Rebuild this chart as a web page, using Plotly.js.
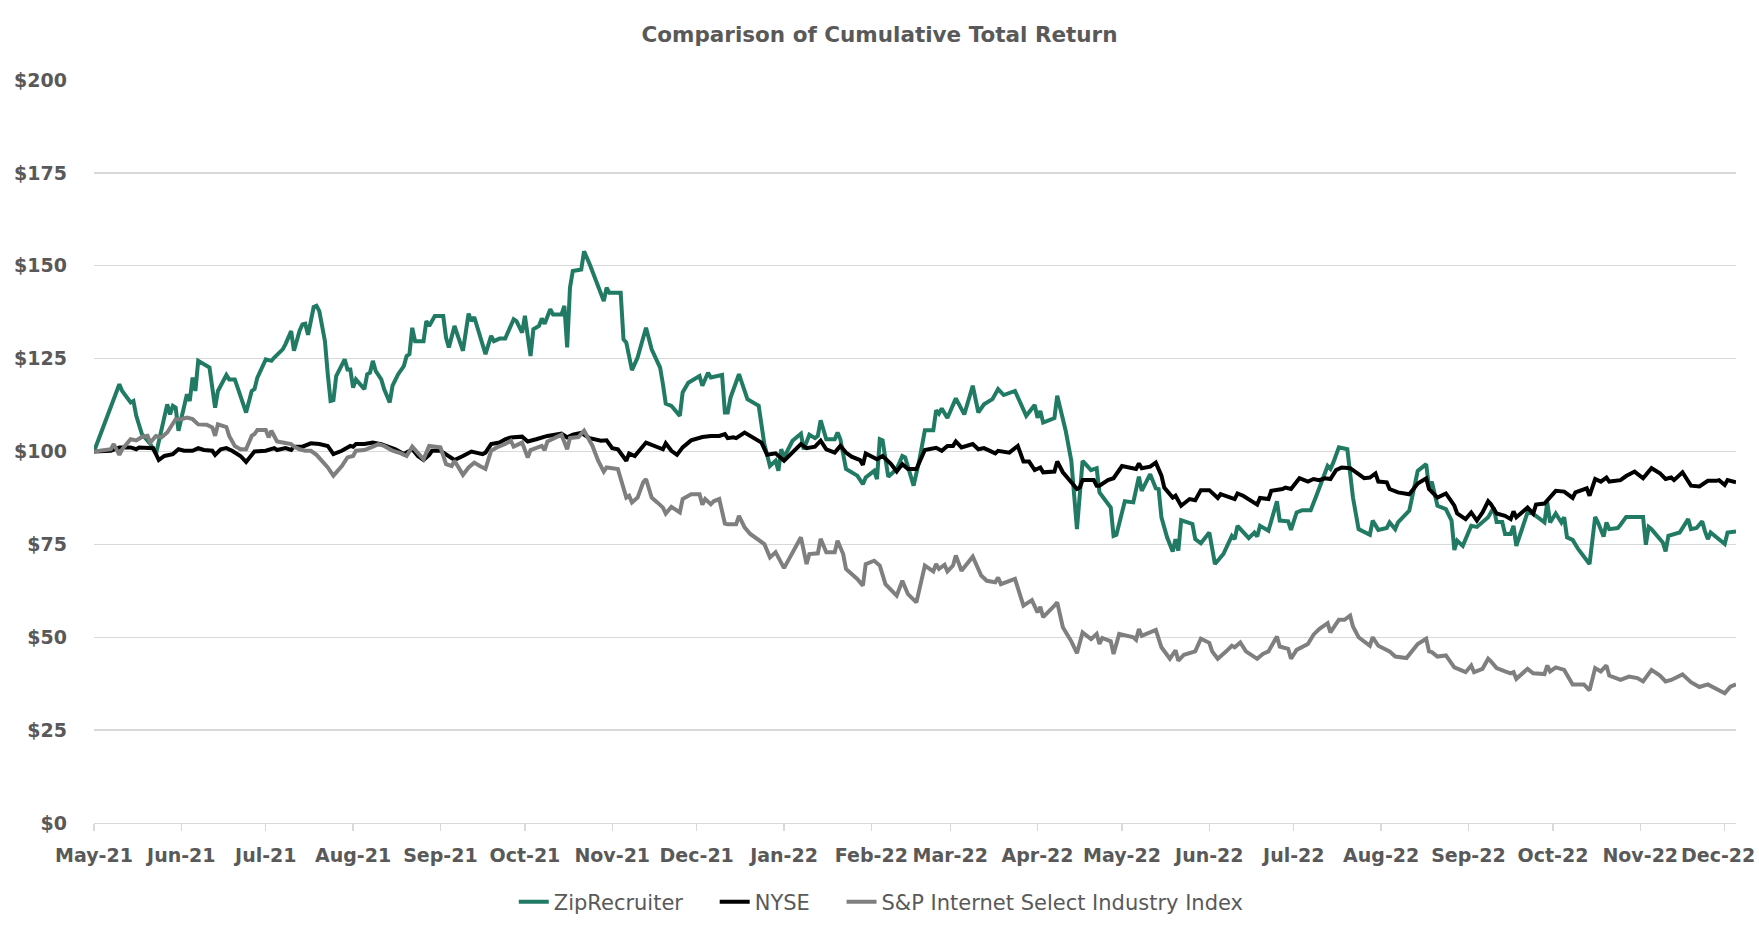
<!DOCTYPE html>
<html>
<head>
<meta charset="utf-8">
<script src="https://cdn.plot.ly/plotly-3.0.1.min.js"></script>
<style>html,body{margin:0;padding:0;background:#fff;}#chart{width:1759px;height:938px;}</style>
</head>
<body>
<div id="chart"></div>
<script>
// ---------- DATA ----------
const seriesNames = ["ZipRecruiter", "NYSE", "S&P Internet Select Industry Index"];

const tickDates = ["2021-05-26","2021-06-26","2021-07-26","2021-08-26","2021-09-26","2021-10-26","2021-11-26","2021-12-26","2022-01-26","2022-02-26","2022-03-26","2022-04-26","2022-05-26","2022-06-26","2022-07-26","2022-08-26","2022-09-26","2022-10-26","2022-11-26","2022-12-26"];
const tickLabels = ["May-21","Jun-21","Jul-21","Aug-21","Sep-21","Oct-21","Nov-21","Dec-21","Jan-22","Feb-22","Mar-22","Apr-22","May-22","Jun-22","Jul-22","Aug-22","Sep-22","Oct-22","Nov-22","Dec-22"];
const yTicks = [0, 25, 50, 75, 100, 125, 150, 175, 200];
const yTickLabels = ["$0", "$25", "$50", "$75", "$100", "$125", "$150", "$175", "$200"];

const zrDates = ["2021-05-26","2021-06-04","2021-06-05","2021-06-08","2021-06-09","2021-06-10","2021-06-12","2021-06-15","2021-06-17","2021-06-21","2021-06-22","2021-06-23","2021-06-24","2021-06-25","2021-06-28","2021-06-29","2021-06-30","2021-07-01","2021-07-02","2021-07-06","2021-07-08","2021-07-09","2021-07-12","2021-07-13","2021-07-15","2021-07-16","2021-07-19","2021-07-21","2021-07-22","2021-07-23","2021-07-26","2021-07-28","2021-07-29","2021-08-01","2021-08-02","2021-08-04","2021-08-05","2021-08-07","2021-08-08","2021-08-09","2021-08-10","2021-08-12","2021-08-13","2021-08-14","2021-08-16","2021-08-17","2021-08-18","2021-08-19","2021-08-20","2021-08-23","2021-08-24","2021-08-25","2021-08-26","2021-08-27","2021-08-30","2021-08-31","2021-09-01","2021-09-02","2021-09-03","2021-09-05","2021-09-06","2021-09-08","2021-09-09","2021-09-11","2021-09-13","2021-09-14","2021-09-15","2021-09-16","2021-09-17","2021-09-20","2021-09-21","2021-09-22","2021-09-23","2021-09-24","2021-09-27","2021-09-28","2021-09-29","2021-10-01","2021-10-02","2021-10-04","2021-10-06","2021-10-07","2021-10-08","2021-10-10","2021-10-12","2021-10-14","2021-10-15","2021-10-17","2021-10-19","2021-10-22","2021-10-23","2021-10-25","2021-10-26","2021-10-28","2021-10-29","2021-10-31","2021-11-01","2021-11-02","2021-11-04","2021-11-05","2021-11-08","2021-11-09","2021-11-10","2021-11-11","2021-11-12","2021-11-15","2021-11-16","2021-11-18","2021-11-23","2021-11-24","2021-11-25","2021-11-29","2021-11-30","2021-12-01","2021-12-03","2021-12-05","2021-12-08","2021-12-10","2021-12-13","2021-12-14","2021-12-15","2021-12-17","2021-12-20","2021-12-21","2021-12-23","2021-12-27","2021-12-28","2021-12-30","2021-12-31","2022-01-04","2022-01-05","2022-01-06","2022-01-07","2022-01-10","2022-01-13","2022-01-17","2022-01-19","2022-01-21","2022-01-23","2022-01-24","2022-01-25","2022-01-26","2022-01-29","2022-02-01","2022-02-02","2022-02-04","2022-02-06","2022-02-07","2022-02-08","2022-02-10","2022-02-13","2022-02-14","2022-02-15","2022-02-17","2022-02-21","2022-02-23","2022-02-24","2022-02-27","2022-02-28","2022-03-01","2022-03-02","2022-03-04","2022-03-07","2022-03-09","2022-03-10","2022-03-13","2022-03-15","2022-03-17","2022-03-20","2022-03-21","2022-03-22","2022-03-23","2022-03-25","2022-03-28","2022-03-31","2022-04-03","2022-04-05","2022-04-07","2022-04-10","2022-04-12","2022-04-14","2022-04-18","2022-04-22","2022-04-25","2022-04-26","2022-04-27","2022-04-28","2022-05-02","2022-05-03","2022-05-06","2022-05-08","2022-05-10","2022-05-12","2022-05-15","2022-05-17","2022-05-18","2022-05-22","2022-05-23","2022-05-24","2022-05-27","2022-05-30","2022-06-01","2022-06-02","2022-06-05","2022-06-07","2022-06-08","2022-06-09","2022-06-11","2022-06-13","2022-06-14","2022-06-15","2022-06-16","2022-06-20","2022-06-21","2022-06-23","2022-06-26","2022-06-28","2022-07-01","2022-07-04","2022-07-05","2022-07-06","2022-07-10","2022-07-12","2022-07-13","2022-07-14","2022-07-17","2022-07-20","2022-07-21","2022-07-24","2022-07-25","2022-07-27","2022-07-29","2022-08-01","2022-08-03","2022-08-04","2022-08-07","2022-08-08","2022-08-09","2022-08-11","2022-08-14","2022-08-16","2022-08-18","2022-08-22","2022-08-23","2022-08-25","2022-08-28","2022-08-29","2022-08-31","2022-09-01","2022-09-05","2022-09-08","2022-09-11","2022-09-12","2022-09-13","2022-09-15","2022-09-18","2022-09-20","2022-09-21","2022-09-22","2022-09-24","2022-09-27","2022-09-29","2022-10-03","2022-10-05","2022-10-06","2022-10-08","2022-10-09","2022-10-11","2022-10-12","2022-10-13","2022-10-17","2022-10-19","2022-10-23","2022-10-24","2022-10-25","2022-10-27","2022-10-29","2022-10-30","2022-10-31","2022-11-02","2022-11-04","2022-11-06","2022-11-08","2022-11-10","2022-11-11","2022-11-13","2022-11-14","2022-11-15","2022-11-18","2022-11-19","2022-11-21","2022-11-27","2022-11-28","2022-11-29","2022-11-30","2022-12-04","2022-12-05","2022-12-06","2022-12-10","2022-12-13","2022-12-14","2022-12-16","2022-12-18","2022-12-19","2022-12-20","2022-12-21","2022-12-26","2022-12-27","2022-12-30"];
const zrValues = [100,118.1,116.3,113.2,113.6,109.6,104.7,102,99.3,112.7,110,112.3,111.8,105.6,115.4,113.6,119.9,116.3,124.4,122.6,111.8,116.3,120.6,119.4,119.4,117.2,110.5,116.3,116.8,119.9,124.8,124.4,125.3,127.5,128.9,132.4,127.1,132.5,134.2,134.4,131.4,138.9,139.2,137.8,129.7,120.8,113.6,113.8,120.3,124.8,122.1,122.1,117.2,119.4,116.8,120.8,121.2,124.4,121.7,119.4,116.8,113.2,117.7,120.8,123,125.7,126.2,133.3,129.7,129.7,135.1,133.8,135.1,136.5,136.5,130.6,128,133.8,131.5,127.1,137.1,135.1,136.2,131.5,126.2,131.1,129.7,130.4,130.4,135.6,135.1,132,136.5,125.7,132.9,133.8,135.8,134.4,138.3,136.9,136.9,139.2,128,144.1,148.6,149,153.9,150.4,140.5,144.1,142.7,142.7,130.2,129.3,121.9,125.3,133.3,127.5,122.6,118.1,112.9,112.3,109.6,115.9,118.5,120.3,117.7,121.2,119.9,120.6,110.5,110.5,114.5,120.8,114.1,112.3,102,96.1,97.5,94.8,100.6,98.4,102.9,104.8,100.6,104.5,103.6,104.2,108.4,103.3,103.3,105.1,103.3,95.3,93.5,91.2,93,94.8,92.6,103.3,103,93.2,95.3,98.8,98.4,90.8,97.5,105.7,105.7,111.1,110.2,111.6,109,114.3,110,117.7,110.5,112.7,114.1,116.8,115.2,116.3,109.6,112.5,109.1,110.9,107.8,109,115,105.6,97.5,79.1,97.5,95,95.5,89,84.9,77.3,77.6,86.6,86.3,93.2,89.4,93.9,90.1,89.9,82.3,76.9,73.1,76.4,73.3,81.5,80.5,76.4,75.3,78.2,69.7,72.4,77.3,76.4,80,76.7,78.2,77.1,80,78.7,86.6,81.4,81.2,78.9,83.6,84.2,84.2,88.1,90.3,96.1,95.3,97,101.1,100.6,87.6,79.1,77.6,81.4,78.9,79.4,80.9,79.1,80.9,84.1,94.8,96.6,90.3,91.9,85.4,84.5,81.4,73.5,76,74.6,80,79.7,82.3,84.9,81,81,77.8,77.8,80,74.6,83.6,83.2,80.9,86.3,80.9,83.3,80.9,82.3,76.9,76.2,73.7,71.9,69.7,82.4,80.9,77.1,80.9,79.1,79.4,80.3,82.4,82.4,74.9,79.7,79.1,75.5,73.1,77.3,78.2,81.8,79.1,79.4,81.2,78.5,76.4,78.2,75.1,78.2,78.5];

const nyseDates = ["2021-05-26","2021-06-01","2021-06-04","2021-06-08","2021-06-10","2021-06-11","2021-06-16","2021-06-18","2021-06-20","2021-06-23","2021-06-25","2021-06-27","2021-06-30","2021-07-02","2021-07-04","2021-07-07","2021-07-08","2021-07-10","2021-07-12","2021-07-14","2021-07-17","2021-07-19","2021-07-22","2021-07-26","2021-07-29","2021-07-30","2021-08-02","2021-08-04","2021-08-05","2021-08-08","2021-08-11","2021-08-14","2021-08-17","2021-08-19","2021-08-22","2021-08-25","2021-08-26","2021-08-27","2021-08-30","2021-09-02","2021-09-05","2021-09-08","2021-09-10","2021-09-13","2021-09-16","2021-09-18","2021-09-20","2021-09-22","2021-09-23","2021-09-26","2021-09-29","2021-10-01","2021-10-04","2021-10-07","2021-10-11","2021-10-12","2021-10-14","2021-10-17","2021-10-19","2021-10-21","2021-10-25","2021-10-27","2021-10-30","2021-11-03","2021-11-08","2021-11-10","2021-11-12","2021-11-15","2021-11-18","2021-11-22","2021-11-24","2021-11-26","2021-11-28","2021-12-01","2021-12-02","2021-12-04","2021-12-08","2021-12-10","2021-12-14","2021-12-15","2021-12-17","2021-12-19","2021-12-21","2021-12-24","2021-12-28","2021-12-31","2022-01-03","2022-01-05","2022-01-06","2022-01-08","2022-01-09","2022-01-12","2022-01-15","2022-01-18","2022-01-20","2022-01-23","2022-01-26","2022-01-29","2022-02-01","2022-02-03","2022-02-06","2022-02-08","2022-02-10","2022-02-13","2022-02-15","2022-02-17","2022-02-19","2022-02-22","2022-02-23","2022-02-24","2022-02-26","2022-02-28","2022-03-02","2022-03-05","2022-03-07","2022-03-09","2022-03-11","2022-03-14","2022-03-17","2022-03-21","2022-03-23","2022-03-25","2022-03-27","2022-03-28","2022-03-30","2022-04-03","2022-04-05","2022-04-07","2022-04-11","2022-04-12","2022-04-16","2022-04-19","2022-04-21","2022-04-23","2022-04-25","2022-04-27","2022-04-28","2022-05-02","2022-05-03","2022-05-05","2022-05-08","2022-05-10","2022-05-11","2022-05-12","2022-05-16","2022-05-17","2022-05-18","2022-05-21","2022-05-23","2022-05-26","2022-05-31","2022-06-01","2022-06-02","2022-06-05","2022-06-07","2022-06-09","2022-06-10","2022-06-13","2022-06-14","2022-06-16","2022-06-19","2022-06-21","2022-06-23","2022-06-26","2022-06-29","2022-06-30","2022-07-05","2022-07-06","2022-07-08","2022-07-11","2022-07-13","2022-07-14","2022-07-17","2022-07-18","2022-07-20","2022-07-22","2022-07-23","2022-07-25","2022-07-28","2022-07-31","2022-08-02","2022-08-04","2022-08-06","2022-08-08","2022-08-10","2022-08-12","2022-08-15","2022-08-17","2022-08-20","2022-08-22","2022-08-24","2022-08-25","2022-08-28","2022-08-29","2022-09-01","2022-09-05","2022-09-08","2022-09-11","2022-09-12","2022-09-15","2022-09-18","2022-09-21","2022-09-22","2022-09-25","2022-09-27","2022-09-29","2022-10-01","2022-10-03","2022-10-04","2022-10-06","2022-10-09","2022-10-11","2022-10-12","2022-10-13","2022-10-17","2022-10-19","2022-10-20","2022-10-23","2022-10-25","2022-10-27","2022-10-30","2022-11-02","2022-11-03","2022-11-07","2022-11-08","2022-11-10","2022-11-12","2022-11-14","2022-11-15","2022-11-19","2022-11-21","2022-11-24","2022-11-27","2022-11-30","2022-12-03","2022-12-05","2022-12-07","2022-12-08","2022-12-11","2022-12-14","2022-12-17","2022-12-20","2022-12-23","2022-12-24","2022-12-26","2022-12-27","2022-12-30"];
const nyseValues = [100,100.2,101.1,101.1,100.6,101.1,100.9,97.7,98.8,99.3,100.6,100.2,100.2,100.9,100.4,100.2,99.1,100.6,100.9,100.2,98.8,97.2,100,100.2,100.9,100.4,100.9,100.4,101.3,101.3,102.2,102,101.5,99.3,100.2,101.5,101.3,102,102,102.4,102,101.1,100.6,99.3,100.6,98.8,97.7,99.1,100.2,100.2,98.6,97.7,98.8,100,99.3,99.7,102,102.4,103.3,103.8,104,102.7,103.3,104.2,104.8,103.8,104.5,105,103.6,102.9,103,100.9,100.6,97.5,99.5,98.8,102.4,101.8,100.6,102.2,100.2,99.1,101.1,103,103.9,104.2,104.2,104.7,103.6,103.8,103.6,105.1,103.9,102.4,99.1,99.5,97.5,99.7,102,100.9,101.3,102.9,100.6,99.7,101.5,99.7,98.6,97.7,96.4,99.5,98.8,97.9,98.8,96.6,94.6,96.6,95.3,95.3,100.4,101,100.2,101.5,101.5,102.7,101.1,102,100.6,100.9,99.5,100.2,99.7,101.5,97.3,97.3,95,95.7,94.4,94.6,97.3,94.4,91.7,89.9,90.3,92.3,92.3,90.8,90.8,92.3,92.8,96.1,95.3,96.8,95.5,95.9,97,93.5,90.3,87.6,88.1,85.4,87.2,86.9,89.6,89.6,87.5,88.5,87.2,88.7,88.1,86.7,85.7,87.5,87.2,89.4,89.6,89.9,90.3,89.9,92.8,91.9,92.6,92.3,92.8,92.6,95,95.7,95.5,94.4,92.8,93,94.1,91.9,91.7,89.9,89,88.5,91.4,92.8,89.9,87.6,88.7,85.4,83.3,81.8,83.6,81.4,83.6,86.6,85.8,83.3,82.7,81.8,83.9,82.3,84.9,83.3,85.7,86,87.8,89.4,89.2,87.5,89,90.1,88.1,92.6,91.9,93,91.9,92.3,93.4,94.6,92.8,95.5,94.1,92.6,93,92.3,94.4,90.8,90.6,92.1,92.1,92.3,91,92.3,91.7];

const spDates = ["2021-05-26","2021-06-01","2021-06-02","2021-06-04","2021-06-05","2021-06-08","2021-06-10","2021-06-12","2021-06-14","2021-06-15","2021-06-17","2021-06-19","2021-06-21","2021-06-24","2021-06-26","2021-06-28","2021-06-30","2021-07-01","2021-07-02","2021-07-05","2021-07-07","2021-07-08","2021-07-09","2021-07-12","2021-07-13","2021-07-15","2021-07-17","2021-07-19","2021-07-21","2021-07-22","2021-07-23","2021-07-26","2021-07-27","2021-07-28","2021-07-30","2021-08-01","2021-08-04","2021-08-05","2021-08-07","2021-08-09","2021-08-11","2021-08-13","2021-08-17","2021-08-19","2021-08-22","2021-08-24","2021-08-26","2021-08-27","2021-08-30","2021-09-02","2021-09-04","2021-09-06","2021-09-09","2021-09-12","2021-09-14","2021-09-16","2021-09-18","2021-09-20","2021-09-22","2021-09-24","2021-09-26","2021-09-28","2021-09-30","2021-10-01","2021-10-04","2021-10-06","2021-10-08","2021-10-10","2021-10-12","2021-10-14","2021-10-16","2021-10-19","2021-10-21","2021-10-22","2021-10-25","2021-10-27","2021-10-28","2021-11-01","2021-11-02","2021-11-03","2021-11-08","2021-11-10","2021-11-11","2021-11-14","2021-11-16","2021-11-19","2021-11-21","2021-11-23","2021-11-24","2021-11-28","2021-11-29","2021-12-01","2021-12-02","2021-12-03","2021-12-05","2021-12-07","2021-12-08","2021-12-10","2021-12-12","2021-12-14","2021-12-15","2021-12-17","2021-12-20","2021-12-21","2021-12-24","2021-12-27","2021-12-28","2021-12-29","2021-12-31","2022-01-01","2022-01-03","2022-01-05","2022-01-06","2022-01-09","2022-01-10","2022-01-12","2022-01-14","2022-01-19","2022-01-21","2022-01-23","2022-01-26","2022-01-29","2022-02-01","2022-02-03","2022-02-04","2022-02-07","2022-02-08","2022-02-10","2022-02-13","2022-02-14","2022-02-16","2022-02-17","2022-02-21","2022-02-23","2022-02-24","2022-02-27","2022-03-01","2022-03-03","2022-03-07","2022-03-09","2022-03-11","2022-03-14","2022-03-15","2022-03-17","2022-03-20","2022-03-21","2022-03-22","2022-03-24","2022-03-25","2022-03-27","2022-03-28","2022-03-30","2022-04-03","2022-04-06","2022-04-08","2022-04-11","2022-04-12","2022-04-13","2022-04-18","2022-04-21","2022-04-24","2022-04-26","2022-04-27","2022-04-28","2022-05-02","2022-05-03","2022-05-05","2022-05-08","2022-05-10","2022-05-12","2022-05-15","2022-05-17","2022-05-18","2022-05-19","2022-05-22","2022-05-23","2022-05-25","2022-05-30","2022-05-31","2022-06-01","2022-06-02","2022-06-07","2022-06-09","2022-06-12","2022-06-14","2022-06-15","2022-06-17","2022-06-21","2022-06-23","2022-06-26","2022-06-27","2022-06-29","2022-07-02","2022-07-04","2022-07-05","2022-07-07","2022-07-09","2022-07-13","2022-07-15","2022-07-17","2022-07-20","2022-07-21","2022-07-24","2022-07-25","2022-07-27","2022-07-31","2022-08-02","2022-08-04","2022-08-07","2022-08-08","2022-08-10","2022-08-11","2022-08-13","2022-08-15","2022-08-16","2022-08-18","2022-08-22","2022-08-23","2022-08-25","2022-08-29","2022-08-31","2022-09-04","2022-09-08","2022-09-11","2022-09-12","2022-09-13","2022-09-15","2022-09-18","2022-09-21","2022-09-25","2022-09-27","2022-09-28","2022-10-01","2022-10-03","2022-10-04","2022-10-06","2022-10-09","2022-10-11","2022-10-12","2022-10-13","2022-10-17","2022-10-19","2022-10-23","2022-10-24","2022-10-25","2022-10-27","2022-10-30","2022-11-01","2022-11-02","2022-11-06","2022-11-08","2022-11-10","2022-11-12","2022-11-14","2022-11-15","2022-11-19","2022-11-22","2022-11-25","2022-11-27","2022-11-30","2022-12-03","2022-12-05","2022-12-07","2022-12-11","2022-12-14","2022-12-17","2022-12-20","2022-12-26","2022-12-28","2022-12-30"];
const spValues = [100,100.6,102,99.1,100.6,103.3,103,103.9,104.2,102.4,104.2,103.8,105.1,108.7,108.7,109.1,108.7,107.8,107.3,107.2,106.5,104.2,107.3,106.6,104.2,101.5,100.6,100.6,104.2,104.7,105.8,105.8,103.8,105.6,102.7,102.4,102,101.3,100.6,100.2,100.2,99.1,95.7,93.5,96.1,98.4,98.8,100.2,100.4,101.3,102,101.5,100.2,99.5,98.8,101.3,99.5,97.9,101.5,101.3,101.1,96.6,96.1,97.5,93.7,95.7,97,96.1,95.3,100.2,101.1,102,102.9,101.3,102.4,98.4,100.4,101.5,100.4,102.7,104.5,100.6,103.6,103.9,105.6,101.5,97.5,94.6,95.7,95.3,92.6,87.6,88.1,86.3,87.6,91.7,92.6,87.6,86.3,84.9,83.3,85.1,83.6,87.2,88.5,88.5,85.7,87.2,85.8,86.6,87.2,80.6,80.4,80.4,82.7,79.6,77.8,75.1,71.5,72.9,68.6,72.9,76.9,69.7,72.4,72.6,76.5,72.9,72.9,76,72.4,68.4,65.7,63.9,69.7,70.6,69.3,64.3,61.2,65.2,61.6,59.4,62.5,69.3,67.7,69.7,68.4,69.5,67.7,69.3,72,67.9,71.7,66.6,65.2,64.8,66.1,64.3,65.7,58.5,60,56.7,58.2,55.4,58.5,59.4,52.7,48.9,45.7,51.3,49.5,50.9,48.2,49.8,48.9,45.5,50.9,50,49.3,52.2,50.4,52,47.3,44.2,46.5,43.7,45.3,46.2,49.6,48.5,46.2,44.2,46.2,47.7,47.3,48.6,46.2,44.2,45.5,46.2,50.2,47.5,46.9,44.2,46.6,48.2,50.7,52.2,53.8,51.3,53.6,54.7,54.7,55.8,52.9,50,47.7,50,47.7,46.2,44.8,44.4,48.2,49.6,46.2,46,44.8,45.1,41.9,40.6,42.4,40.6,41.5,44.2,43.5,41.7,40.8,40.3,40.6,38.8,41.5,40.3,40.1,42.4,40.8,41.9,41.2,38.8,37.3,37.3,35.7,41.7,40.8,42.4,39.7,38.5,39.4,39,38.1,41.2,39.7,38.1,38.5,40,37.9,36.6,37.3,34.9,36.7,37.3];

const seriesColors = ["#217A63", "#000000", "#7F7F7F"];

// ---------- CHART ----------
const FONT = "'DejaVu Sans', 'Open Sans', sans-serif";
const TXT = "#595959";
const GRID = "#D9D9D9";
const GAP = "\u00A0\u00A0\u00A0\u00A0";
const LAST = tickLabels.length - 1;

// the last month label sits against the right edge, so it is drawn right-aligned
const axisTickText = tickLabels.map((t, i) => (i === LAST ? "" : t));

const traces = [
  {x: zrDates, y: zrValues, name: seriesNames[0] + GAP, type: "scatter", mode: "lines", line: {color: seriesColors[0], width: 4}},
  {x: nyseDates, y: nyseValues, name: seriesNames[1] + GAP, type: "scatter", mode: "lines", line: {color: seriesColors[1], width: 4}},
  {x: spDates, y: spValues, name: seriesNames[2], type: "scatter", mode: "lines", line: {color: seriesColors[2], width: 4}}
];

const layout = {
  width: 1759, height: 938,
  margin: {l: 94, r: 23, t: 80, b: 115, pad: 0},
  paper_bgcolor: "#FFFFFF", plot_bgcolor: "#FFFFFF",
  font: {family: FONT, color: TXT},
  showlegend: true,
  title: {
    text: "Comparison of Cumulative Total Return",
    xref: "container", x: 0.5, xanchor: "center",
    yref: "container", y: 1 - 34/938, yanchor: "middle",
    font: {family: FONT, size: 21.5, color: TXT, weight: 700}
  },
  xaxis: {
    type: "date",
    range: ["2021-05-26", "2022-12-30"],
    tickmode: "array", tickvals: tickDates, ticktext: axisTickText,
    ticks: "outside", ticklen: 7, tickwidth: 1.3, tickcolor: GRID,
    showline: true, linecolor: GRID, linewidth: 1.3,
    showgrid: false, zeroline: false,
    tickfont: {family: FONT, size: 19, color: TXT, weight: 700},
    ticklabelstandoff: 8
  },
  yaxis: {
    range: [0, 200],
    tickmode: "array", tickvals: yTicks, ticktext: yTickLabels,
    showgrid: true, gridcolor: GRID, gridwidth: 1.3,
    zeroline: false, showline: false, ticks: "",
    tickfont: {family: FONT, size: 19, color: TXT, weight: 700},
    ticklabelstandoff: 26
  },
  annotations: [{
    text: tickLabels[LAST],
    xref: "x", x: tickDates[LAST], xanchor: "right", xshift: 31,
    yref: "paper", y: 0, yanchor: "middle", yshift: -32,
    showarrow: false, borderpad: 0,
    font: {family: FONT, size: 19, color: TXT, weight: 700}
  }],
  legend: {
    orientation: "h",
    xref: "container", x: 0.501, xanchor: "center",
    yref: "container", y: 1 - 902/938, yanchor: "middle",
    font: {family: FONT, size: 21, color: TXT},
    itemwidth: 30, traceorder: "normal",
    bgcolor: "rgba(0,0,0,0)"
  },
  hovermode: false
};

Plotly.newPlot("chart", traces, layout, {staticPlot: true, displayModeBar: false});
</script>
</body>
</html>
